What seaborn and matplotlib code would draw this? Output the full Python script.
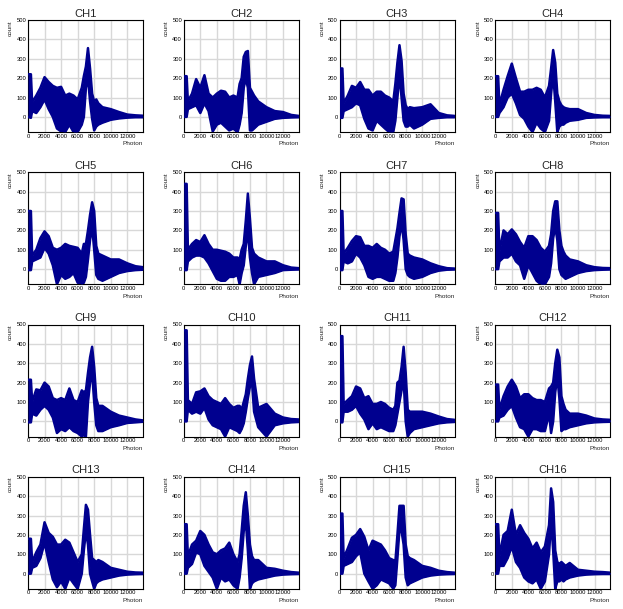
import matplotlib
matplotlib.use("Agg")
import matplotlib.pyplot as plt
import seaborn as sns
from matplotlib.ticker import MultipleLocator

sns.set_style("white")
plt.rcParams["font.family"] = ["Liberation Sans", "DejaVu Sans"]

# Photon positions (x) at which the band envelope was read
photon = [0, 350, 500, 1000, 1500, 2000, 2500, 3000, 3500, 4000, 4500, 5000, 5500, 6000,
          6500, 6750, 7000, 7250, 7500, 7750, 8000, 8250, 8500, 9000, 10000, 11000, 12000,
          13000, 13900]

channels = [f"CH{i}" for i in range(1, 17)]

# upper envelope (count) per channel
ch1_hi = [220, 220, 75, 110, 150, 205, 180, 160, 150, 155, 110, 120, 110, 90, 150, 210, 260, 355, 250, 120, 80, 90, 70, 50, 40, 25, 12, 8, 6]
ch2_hi = [210, 210, 80, 120, 195, 150, 215, 120, 100, 120, 135, 130, 100, 110, 100, 170, 200, 310, 335, 340, 150, 130, 110, 80, 50, 30, 25, 10, 5]
ch3_hi = [250, 250, 70, 110, 160, 150, 180, 140, 140, 110, 130, 130, 110, 100, 80, 170, 280, 370, 290, 120, 60, 40, 50, 45, 50, 65, 20, 8, 5]
ch4_hi = [210, 210, 60, 140, 210, 275, 200, 130, 130, 140, 140, 150, 140, 100, 160, 250, 345, 280, 120, 80, 60, 50, 45, 40, 40, 20, 10, 6, 5]
ch5_hi = [300, 300, 70, 100, 160, 195, 170, 110, 100, 110, 130, 120, 115, 110, 80, 130, 130, 200, 280, 345, 300, 120, 80, 70, 50, 50, 30, 15, 10]
ch6_hi = [440, 440, 100, 130, 150, 140, 175, 130, 100, 100, 95, 90, 80, 60, 60, 50, 100, 130, 250, 390, 260, 110, 80, 60, 40, 40, 20, 8, 5]
ch7_hi = [300, 300, 80, 110, 145, 170, 165, 120, 120, 110, 130, 110, 100, 80, 90, 150, 210, 290, 365, 360, 180, 80, 70, 60, 50, 30, 15, 5, 3]
ch8_hi = [290, 290, 90, 200, 180, 205, 180, 140, 110, 170, 170, 150, 110, 90, 120, 180, 300, 350, 350, 200, 120, 90, 70, 50, 40, 20, 10, 6, 5]
ch9_hi = [215, 215, 100, 165, 160, 200, 180, 120, 110, 120, 110, 170, 110, 100, 160, 150, 160, 250, 330, 385, 280, 120, 80, 80, 50, 30, 20, 10, 5]
ch10_hi = [470, 470, 110, 90, 150, 155, 170, 130, 110, 100, 90, 120, 90, 70, 80, 80, 60, 100, 140, 220, 290, 335, 220, 70, 90, 40, 20, 12, 10]
ch11_hi = [440, 440, 90, 110, 130, 180, 170, 120, 130, 90, 90, 100, 90, 70, 60, 80, 200, 210, 280, 385, 250, 60, 50, 50, 50, 40, 25, 12, 8]
ch12_hi = [190, 190, 60, 130, 180, 215, 180, 120, 140, 140, 120, 110, 110, 100, 170, 180, 200, 300, 370, 330, 130, 90, 60, 40, 40, 30, 15, 10, 8]
ch13_hi = [180, 180, 60, 110, 150, 265, 210, 190, 150, 150, 175, 160, 110, 60, 100, 230, 355, 330, 200, 80, 70, 60, 70, 60, 30, 20, 10, 6, 5]
ch14_hi = [255, 255, 90, 150, 170, 220, 200, 150, 110, 100, 120, 130, 160, 100, 60, 100, 220, 350, 420, 300, 150, 90, 70, 70, 30, 25, 15, 8, 5]
ch15_hi = [310, 310, 80, 130, 185, 200, 230, 190, 120, 170, 160, 150, 120, 80, 70, 60, 200, 350, 350, 350, 150, 90, 80, 70, 40, 30, 15, 8, 5]
ch16_hi = [255, 255, 90, 200, 220, 330, 200, 250, 210, 180, 130, 160, 110, 140, 250, 440, 370, 120, 60, 50, 60, 50, 40, 55, 20, 15, 10, 8, 5]

# lower envelope (count) per channel
ch1_lo = [0, -5, 30, 20, 50, 90, 40, 0, -60, -75, -78, -40, -78, -78, -40, 0, 150, 200, 80, -10, -70, -50, -40, -30, -15, -8, -4, -2, -2]
ch2_lo = [0, 0, 40, 50, 60, 20, 70, 30, -75, -40, -30, -50, -70, -60, -80, -40, 20, 150, 200, 150, -70, -70, -60, -40, -25, -10, -5, -3, -2]
ch3_lo = [-5, -5, 30, 40, 50, 70, 60, -10, -60, -70, -20, -40, -60, -78, -78, -20, 100, 220, 100, -20, -50, -50, -40, -60, -40, -10, -5, -2, -2]
ch4_lo = [0, 0, 20, 50, 100, 120, 70, 10, -10, -50, -78, -30, -60, -78, -20, 120, 220, 80, -78, -50, -40, -40, -30, -20, -15, -5, -3, -2, -2]
ch5_lo = [-5, -5, 40, 50, 60, 110, 80, 20, -78, -30, -50, -40, -20, -70, -78, -70, -40, 50, 150, 220, 100, -30, -50, -60, -40, -20, -10, -5, -3]
ch6_lo = [-5, -5, 40, 60, 70, 70, 60, 30, -10, -50, -60, -60, -40, -40, -30, -78, -20, 20, 120, 200, 60, -20, -78, -40, -30, -20, -5, -3, -2]
ch7_lo = [-5, -5, 40, 30, 40, 80, 60, 20, -40, -50, -40, -40, -50, -60, -60, -20, 60, 170, 240, 150, 0, -30, -40, -50, -40, -20, -8, -3, -2]
ch8_lo = [0, 0, 40, 60, 60, 80, 40, 20, -50, 20, -20, -60, -78, -78, -40, 30, 160, 220, 150, 0, -30, -40, -50, -40, -20, -10, -5, -3, -2]
ch9_lo = [-5, -5, 40, 30, 60, 80, 60, 20, -60, -40, -50, -30, -50, -60, -78, -70, -78, 100, 200, 250, 100, -20, -50, -50, -30, -20, -8, -5, -2]
ch10_lo = [0, 0, 60, 40, 50, 40, 70, 10, -20, -30, -40, -78, -30, -40, -50, -60, -40, -10, 50, 120, 180, 200, 50, -30, -78, -20, -10, -5, -3]
ch11_lo = [-5, -5, 50, 50, 60, 80, 40, 10, -40, -10, -40, -30, -40, -50, -50, -20, 40, 100, 160, 220, 0, -78, -60, -40, -30, -20, -10, -5, -3]
ch12_lo = [0, 0, 20, 30, 60, 80, 20, -30, -40, -78, -40, -40, -50, -50, 40, -60, 0, 150, 230, 120, -50, -40, -40, -30, -20, -10, -5, -3, -2]
ch13_lo = [0, 0, 30, 40, 80, 160, 60, -30, -70, -40, -78, -20, -50, -78, 0, 120, 220, 150, 0, -40, -78, -50, -40, -30, -20, -10, -5, -3, -2]
ch14_lo = [0, 0, 30, 50, 110, 100, 40, 10, -20, -78, -20, -40, -30, -60, -78, -20, 80, 220, 270, 120, -78, -50, -40, -30, -20, -10, -5, -3, -2]
ch15_lo = [0, 0, 40, 50, 60, 90, 110, 0, -40, -78, -60, -30, -40, -50, -78, -60, 80, 230, 220, 150, -20, -60, -50, -40, -20, -10, -5, -3, -2]
ch16_lo = [0, 0, 40, 40, 80, 140, 60, 30, -20, -40, -50, -30, -78, -40, 100, 280, 120, -78, -40, -40, -30, -40, -30, -20, -10, -5, -3, -2, -2]

hi_values = [ch1_hi, ch2_hi, ch3_hi, ch4_hi, ch5_hi, ch6_hi, ch7_hi, ch8_hi,
             ch9_hi, ch10_hi, ch11_hi, ch12_hi, ch13_hi, ch14_hi, ch15_hi, ch16_hi]
lo_values = [ch1_lo, ch2_lo, ch3_lo, ch4_lo, ch5_lo, ch6_lo, ch7_lo, ch8_lo,
             ch9_lo, ch10_lo, ch11_lo, ch12_lo, ch13_lo, ch14_lo, ch15_lo, ch16_lo]

x_ticks = [0, 2000, 4000, 6000, 8000, 10000, 12000]
y_ticks = [0, 100, 200, 300, 400, 500]

COLOR = "#00008f"
W, H = 623, 609
fig = plt.figure(figsize=(W / 100, H / 100), dpi=100)
fig.patch.set_facecolor("white")

cell_w, cell_h = W / 4, H / 4
for i, name in enumerate(channels):
    r, c = divmod(i, 4)
    left = (c * cell_w + 28) / W
    bottom = 1 - (r * cell_h + 20 + 112) / H
    ax = fig.add_axes([left, bottom, 115 / W, 112 / H])
    ax.set_facecolor("white")
    ax.fill_between(photon, lo_values[i], hi_values[i], color=COLOR, lw=0, zorder=3)
    sns.lineplot(x=photon, y=hi_values[i], ax=ax, color=COLOR, lw=1.8, zorder=4)
    sns.lineplot(x=photon, y=lo_values[i], ax=ax, color=COLOR, lw=1.8, zorder=4)
    ax.set_xlim(0, 13900)
    ax.set_ylim(-78, 500)
    ax.set_xticks(x_ticks)
    ax.set_xticklabels([str(t) for t in x_ticks])
    ax.set_yticks(y_ticks)
    ax.set_yticklabels([str(t) for t in y_ticks])
    ax.xaxis.set_minor_locator(MultipleLocator(400))
    ax.yaxis.set_minor_locator(MultipleLocator(20))
    ax.grid(True, which="major", color="#d8d8d8", lw=1.0, zorder=0)
    ax.set_axisbelow(True)
    ax.tick_params(axis="both", which="major", direction="in", length=2.5, width=0.6,
                   labelsize=4.2, pad=1.2, colors="black", top=False, right=False)
    ax.tick_params(axis="both", which="minor", direction="in", length=1.3, width=0.5,
                   top=False, right=False)
    for sp in ax.spines.values():
        sp.set_color("black")
        sp.set_linewidth(0.8)
    ax.set_xlabel("")
    ax.set_ylabel("")
    ax.set_title(name, fontsize=8, pad=2.5)
    ax.text(-0.15, 1.0, "count", rotation=90, ha="center", va="top",
            transform=ax.transAxes, fontsize=4.6)
    ax.text(1.0, -0.105, "Photon", ha="right", va="center",
            transform=ax.transAxes, fontsize=4.6)

fig.savefig("out.png", dpi=100, facecolor="white")
